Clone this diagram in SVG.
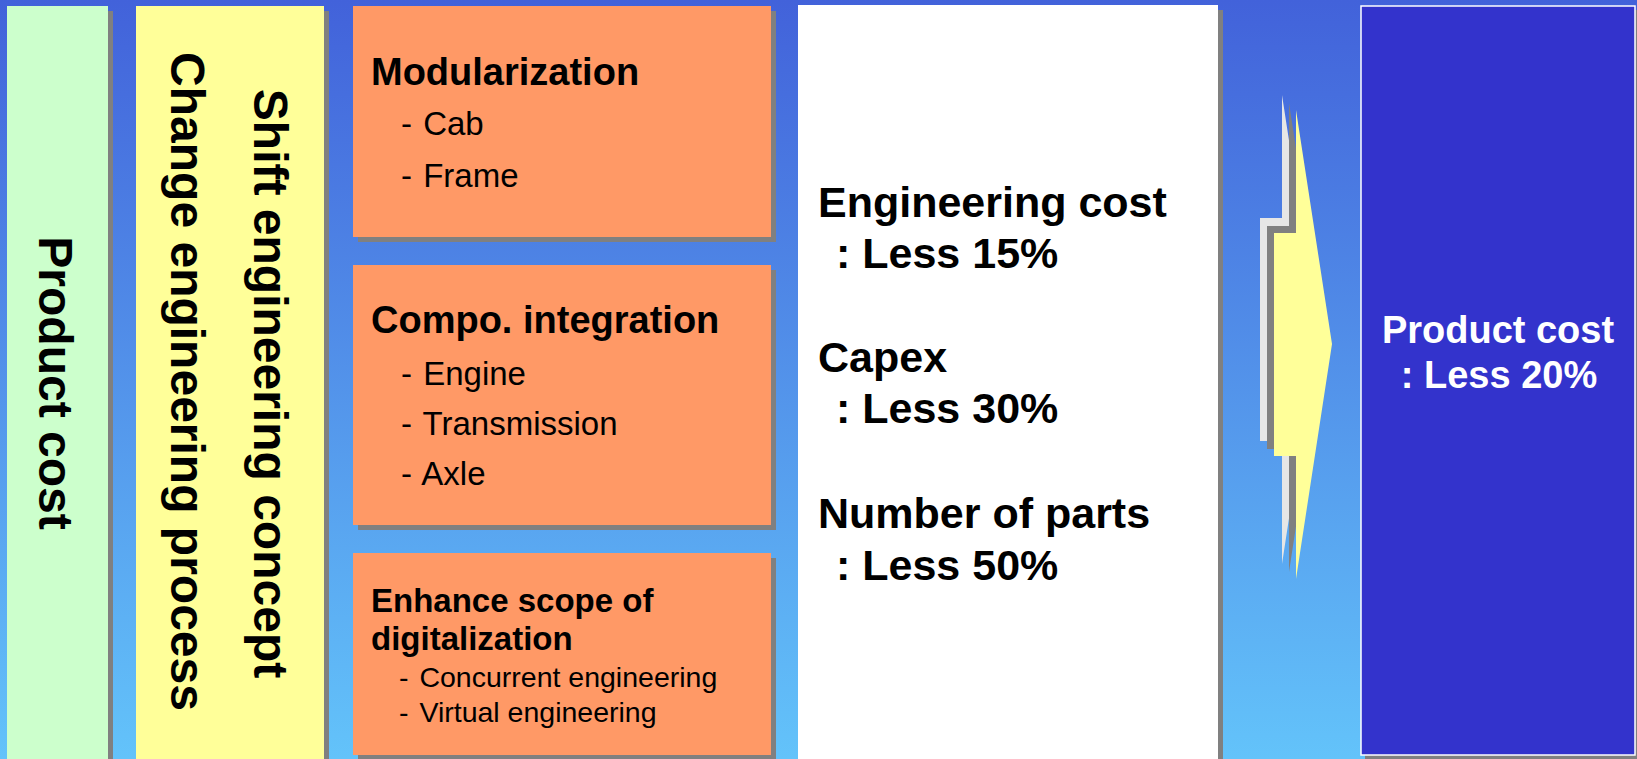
<svg xmlns="http://www.w3.org/2000/svg" width="1637" height="759" viewBox="0 0 1637 759">
<defs>
<linearGradient id="bg" x1="0" y1="0" x2="0" y2="1">
<stop offset="0" stop-color="#4262DA"/>
<stop offset="1" stop-color="#63C3FA"/>
</linearGradient>
</defs>
<style>
.sh{fill:#808080}
.b{font-family:"Liberation Sans",Arial,sans-serif;font-weight:bold;fill:#000}
.r{font-family:"Liberation Sans",Arial,sans-serif;fill:#000}
.w{fill:#fff}
</style>
<rect x="0" y="0" width="1637" height="759" fill="url(#bg)"/>

<g id="product-cost">
<rect class="sh" x="12" y="11" width="101" height="760"/>
<rect x="7" y="6" width="101" height="760" fill="#CCFFCC"/>
<text class="b" font-size="48" text-anchor="middle" transform="translate(39,383) rotate(90)">Product cost</text>
</g>

<g id="engineering">
<rect class="sh" x="141" y="11" width="188" height="760"/>
<rect x="136" y="6" width="188" height="760" fill="#FFFF99"/>
<text class="b" font-size="48" text-anchor="middle" transform="translate(253.5,383.5) rotate(90)">Shift engineering concept</text>
<text class="b" font-size="48" text-anchor="middle" transform="translate(170.5,381.5) rotate(90)">Change engineering process</text>
</g>

<g id="modularization">
<rect class="sh" x="358" y="11" width="418" height="231"/>
<rect x="353" y="6" width="418" height="231" fill="#FF9966"/>
<text class="b" font-size="38" x="371" y="85">Modularization</text>
<text class="r" font-size="33" x="401" y="135">- <tspan dx="2">Cab</tspan></text>
<text class="r" font-size="33" x="401" y="187">- <tspan dx="2">Frame</tspan></text>
</g>

<g id="integration">
<rect class="sh" x="358" y="270" width="418" height="260"/>
<rect x="353" y="265" width="418" height="260" fill="#FF9966"/>
<text class="b" font-size="38" x="371" y="333">Compo. integration</text>
<text class="r" font-size="33" x="401" y="385">- <tspan dx="2">Engine</tspan></text>
<text class="r" font-size="33" x="401" y="435">- <tspan dx="2">Transmission</tspan></text>
<text class="r" font-size="33" x="401" y="485">- <tspan dx="2">Axle</tspan></text>
</g>

<g id="digitalization">
<rect class="sh" x="358" y="558" width="418" height="210"/>
<rect x="353" y="553" width="418" height="202" fill="#FF9966"/>
<text class="b" font-size="33" x="371" y="612">Enhance scope of</text>
<text class="b" font-size="33" x="371" y="650">digitalization</text>
<text class="r" font-size="28.5" x="399" y="687">- <tspan dx="3">Concurrent engineering</tspan></text>
<text class="r" font-size="28.5" x="399" y="722">- <tspan dx="3">Virtual engineering</tspan></text>
</g>

<g id="results">
<rect class="sh" x="803" y="10" width="420" height="760"/>
<rect x="798" y="5" width="420" height="760" fill="#FFFFFF"/>
<text class="b" font-size="43" x="818" y="217">Engineering cost</text>
<text class="b" font-size="43" x="836" y="268">: Less 15%</text>
<text class="b" font-size="43" x="818" y="372">Capex</text>
<text class="b" font-size="43" x="836" y="423">: Less 30%</text>
<text class="b" font-size="43" x="818" y="528">Number of parts</text>
<text class="b" font-size="43" x="836" y="580">: Less 50%</text>
</g>

<g id="connectors">
<polygon fill="#E6E6E6" points="1260,218 1282,218 1282,95 1318,329 1282,564 1282,441 1260,441"/>
<polygon fill="#808080" points="1267,226 1289,226 1289,103 1325,337 1289,572 1289,449 1267,449"/>
<polygon fill="#FFFF99" points="1274,233 1296,233 1296,110 1332,344 1296,579 1296,456 1274,456"/>
</g>

<g id="product-cost-result">
<rect class="sh" x="1365" y="10" width="274" height="752"/>
<rect x="1361" y="6" width="274" height="749" fill="#3333CC" stroke="#FFFFFF" stroke-width="1.5"/>
<text class="b w" font-size="38" text-anchor="middle" x="1498" y="343">Product cost</text>
<text class="b w" font-size="38" text-anchor="middle" x="1499" y="388">: Less 20%</text>
</g>
</svg>
